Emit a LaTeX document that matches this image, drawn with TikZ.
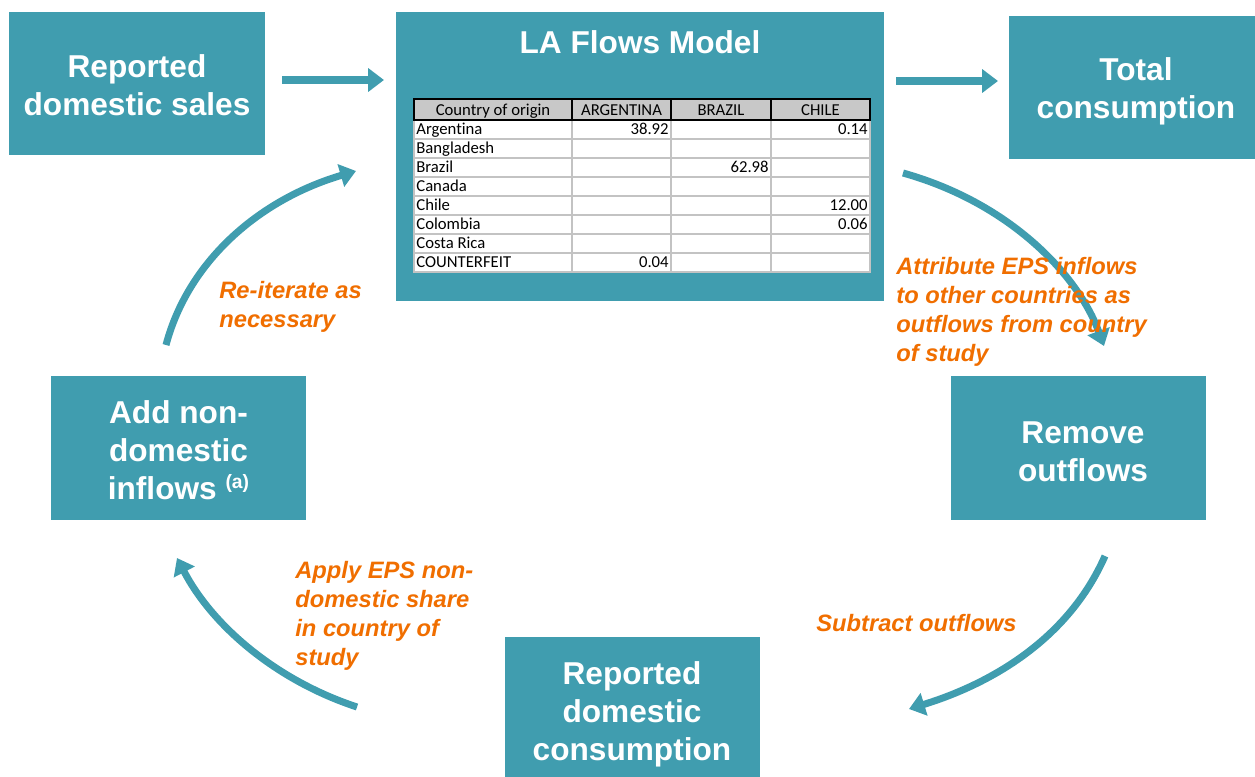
\documentclass[tikz,border=0pt]{standalone}
\usepackage{fontspec}
\setmainfont{Liberation Sans}
\newfontfamily\tablefont[Ligatures=NoCommon]{Carlito}
\usetikzlibrary{arrows.meta}

\definecolor{boxteal}{RGB}{64,157,175}
\definecolor{noteorange}{RGB}{240,110,0}
\definecolor{headgrey}{RGB}{200,200,200}
\definecolor{gridgrey}{RGB}{195,195,195}

\begin{document}
\begin{tikzpicture}[x=0.02cm,y=-0.02cm,
    stepbox/.style={fill=boxteal,inner sep=0pt},
    steptext/.style={text=white,inner sep=0pt,align=center,
        font=\fontsize{18}{21.6}\selectfont\bfseries},
    note/.style={text=noteorange,align=left,anchor=north west,inner sep=0pt,
        font=\fontsize{13.5}{16.5}\selectfont\bfseries\itshape},
    flow/.style={boxteal,line width=4pt,-{Triangle[width=13pt,length=9pt]}},
    cell/.style={font=\tablefont\fontsize{9.5}{11}\selectfont,inner sep=0pt,
        text height=6.6pt,text depth=1.9pt}]

    % Page frame
    \useasboundingbox (0,0) rectangle (1255,777);

    % The six steps of the cycle
    \node[stepbox,minimum width=5.12cm,minimum height=2.86cm] (sales) at (137,83.5) {};
    \node[steptext] (salestext) at (137,85) {Reported\\domestic sales};
    \node[stepbox,minimum width=9.76cm,minimum height=5.78cm] (model) at (640,156.5) {};
    \node[steptext] (title) at (640,42) {LA Flows Model};
    \node[stepbox,minimum width=4.92cm,minimum height=2.86cm] (total) at (1132,87.5) {};
    \node[steptext] (totaltext) at (1136,91) {Total\\consumption};
    \node[stepbox,minimum width=5.1cm,minimum height=2.88cm] (remove) at (1078.5,448) {};
    \node[steptext] (removetext) at (1083,452) {Remove\\outflows};
    \node[stepbox,minimum width=5.1cm,minimum height=3.1cm] (consumption) at (632.5,714.5) {};
    \node[steptext] (consumptiontext) at (632,714) {Reported\\domestic\\consumption};
    \node[stepbox,minimum width=5.1cm,minimum height=2.88cm] (inflows) at (178.5,448) {};
    \node[steptext] (inflowstext) at (178.5,450) {Add non-\\domestic\\inflows {\fontsize{11}{12}\selectfont\raisebox{1.1ex}{(a)}}};

    % Table inside the model box
    \fill[white] (414,120) rectangle (870,272);
    \foreach \y in {139,158,177,196,215,234,253}
        \draw[gridgrey,line width=1pt] (414,\y) -- (870,\y);
    \foreach \x in {572,671,771}
        \draw[gridgrey,line width=1pt] (\x,120) -- (\x,272);
    \draw[gridgrey,line width=1pt] (414,120) rectangle (870,272);
    \foreach \a/\b in {414/572,572/671,671/771,771/870}
        \draw[fill=headgrey,line width=1.2pt] (\a,99) rectangle (\b,120);
    \node[cell] (h0) at (493,111.5) {Country of origin};
    \node[cell] (h1) at (621.5,111.5) {ARGENTINA};
    \node[cell] (h2) at (721,111.5) {BRAZIL};
    \node[cell] (h3) at (820.5,111.5) {CHILE};
    \foreach \name [count=\i] in {Argentina,Bangladesh,Brazil,Canada,Chile,Colombia,Costa Rica,COUNTERFEIT}
        \node[cell,anchor=west] (r\i) at (416,{111.5+19*\i}) {\name};
    \node[cell,anchor=east] (v1) at (669,130.5) {38.92};
    \node[cell,anchor=east] (v2) at (868,130.5) {0.14};
    \node[cell,anchor=east] (v3) at (769,168.5) {62.98};
    \node[cell,anchor=east] (v4) at (868,206.5) {12.00};
    \node[cell,anchor=east] (v5) at (868,225.5) {0.06};
    \node[cell,anchor=east] (v6) at (669,263.5) {0.04};

    % Arrow end points
    \coordinate (a1) at (282,80);
    \coordinate (a2) at (384,80);
    \coordinate (b1) at (896,81);
    \coordinate (b2) at (998,81);
    \coordinate (c1) at (903,173);
    \coordinate (c2) at (1104,346);
    \coordinate (d1) at (1105,556);
    \coordinate (d2) at (909,709);
    \coordinate (e1) at (357,707);
    \coordinate (e2) at (177,558);
    \coordinate (f1) at (166,345);
    \coordinate (f2) at (356,171);

    % Arrows
    \draw[flow] (a1) -- (a2);
    \draw[flow] (b1) -- (b2);
    \draw[flow] (c1) .. controls (1010,203) and (1078,275) .. (c2);
    \draw[flow] (d1) .. controls (1068,640) and (990,684) .. (d2);
    \draw[flow] (e1) .. controls (275,680) and (212,625) .. (e2);
    \draw[flow] (f1) .. controls (188,262) and (258,200) .. (f2);

    % Notes on the arrows
    \node[note] (n1) at (219,281) {Re-iterate as\\necessary};
    \node[note] (n2) at (896,257) {Attribute EPS inflows\\to other countries as\\outflows from country\\of study};
    \node[note] (n3) at (816,614) {Subtract outflows};
    \node[note] (n4) at (295,561) {Apply EPS non-\\domestic share\\in country of\\study};

\end{tikzpicture}
\end{document}
